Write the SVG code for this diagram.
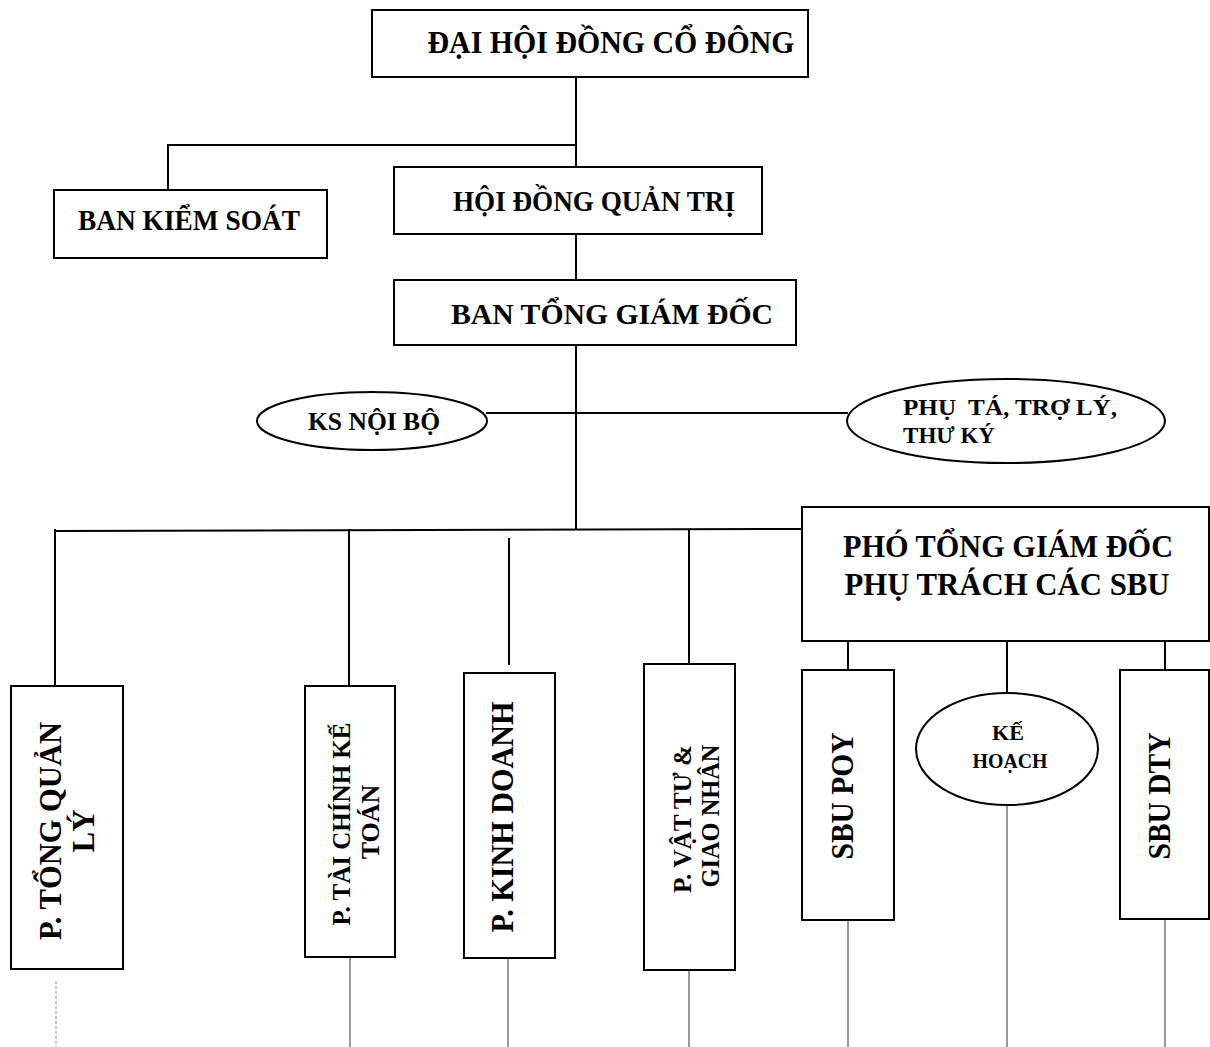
<svg xmlns="http://www.w3.org/2000/svg" width="1210" height="1047" viewBox="0 0 1210 1047">
<style>
.box{fill:#fff;stroke:#000;stroke-width:2}
.conn{fill:none;stroke:#000;stroke-width:2}
.thin{fill:none;stroke:#333;stroke-width:1}
.faint{fill:none;stroke:#888;stroke-width:1;stroke-dasharray:3 2}
text{font-family:"Liberation Serif","Times New Roman",serif;font-weight:bold;fill:#000}
.c{text-anchor:middle}
.pre{white-space:pre}
</style>
<rect width="1210" height="1047" fill="#fff"/>
<g id="connectors">
<line class="conn" x1="576" y1="77" x2="576" y2="167"/>
<polyline class="conn" points="576,145 168,145 168,190"/>
<line class="conn" x1="576" y1="234" x2="576" y2="280"/>
<line class="conn" x1="576" y1="345" x2="576" y2="530"/>
<line class="conn" x1="486" y1="413" x2="848" y2="413"/>
<line class="conn" x1="55" y1="531" x2="802" y2="529"/>
<line class="conn" x1="55" y1="529" x2="55" y2="686"/>
<line class="conn" x1="349" y1="529" x2="349" y2="686"/>
<line class="conn" x1="509" y1="538" x2="509" y2="665"/>
<line class="conn" x1="689" y1="529" x2="689" y2="664"/>
<line class="conn" x1="848" y1="641" x2="848" y2="673"/>
<line class="conn" x1="1007" y1="641" x2="1007" y2="693"/>
<line class="conn" x1="1165" y1="641" x2="1165" y2="670"/>
<line class="faint" x1="56" y1="981" x2="56" y2="1047"/>
<line class="thin" x1="350" y1="957" x2="350" y2="1047"/>
<line class="thin" x1="508" y1="958" x2="508" y2="1047"/>
<line class="thin" x1="689" y1="959" x2="689" y2="1047"/>
<line class="thin" x1="848" y1="912" x2="848" y2="1047"/>
<line class="thin" x1="1007" y1="800" x2="1007" y2="1047"/>
<line class="thin" x1="1165" y1="912" x2="1165" y2="1047"/>
</g>
<g id="dai-hoi">
<rect class="box" x="372" y="10" width="436" height="67"/>
<text class="c" x="611" y="53" font-size="31" textLength="367" lengthAdjust="spacingAndGlyphs">ĐẠI HỘI ĐỒNG CỔ ĐÔNG</text>
</g>
<g id="ban-kiem-soat">
<rect class="box" x="54" y="190" width="273" height="68"/>
<text class="c" x="189" y="230" font-size="29" textLength="222" lengthAdjust="spacingAndGlyphs">BAN KIỂM SOÁT</text>
</g>
<g id="hoi-dong-quan-tri">
<rect class="box" x="394" y="167" width="368" height="67"/>
<text class="c" x="594" y="211" font-size="30" textLength="282" lengthAdjust="spacingAndGlyphs">HỘI ĐỒNG QUẢN TRỊ</text>
</g>
<g id="ban-tong-giam-doc">
<rect class="box" x="394" y="280" width="402" height="65"/>
<text class="c" x="612" y="324" font-size="30" textLength="322" lengthAdjust="spacingAndGlyphs">BAN TỔNG GIÁM ĐỐC</text>
</g>
<g id="ks-noi-bo">
<ellipse class="box" cx="372" cy="421" rx="115" ry="29"/>
<text class="c" x="374" y="430" font-size="25" textLength="132" lengthAdjust="spacingAndGlyphs">KS NỘI BỘ</text>
</g>
<g id="phu-ta">
<ellipse class="box" cx="1006" cy="421" rx="159" ry="42"/>
<text class="pre" x="903" y="415" font-size="24" textLength="214" lengthAdjust="spacingAndGlyphs" xml:space="preserve">PHỤ  TÁ, TRỢ LÝ,</text>
<text x="903" y="443" font-size="24" textLength="92" lengthAdjust="spacingAndGlyphs">THƯ KÝ</text>
</g>
<g id="pho-tong-giam-doc">
<rect class="box" x="802" y="507" width="407" height="134"/>
<text class="c" x="1008" y="557" font-size="32" textLength="330" lengthAdjust="spacingAndGlyphs">PHÓ TỔNG GIÁM ĐỐC</text>
<text class="c" x="1007" y="595" font-size="32" textLength="325" lengthAdjust="spacingAndGlyphs">PHỤ TRÁCH CÁC SBU</text>
</g>
<g id="p-tong-quan-ly">
<rect class="box" x="11" y="686" width="112" height="283"/>
<text class="c" transform="translate(61,831) rotate(-90)" font-size="31" textLength="218" lengthAdjust="spacingAndGlyphs">P. TỔNG QUẢN</text>
<text class="c" transform="translate(94,831) rotate(-90)" font-size="31">LÝ</text>
</g>
<g id="p-tai-chinh">
<rect class="box" x="305" y="686" width="90" height="271"/>
<text class="c" transform="translate(350,824) rotate(-90)" font-size="26" textLength="203" lengthAdjust="spacingAndGlyphs">P. TÀI CHÍNH KẾ</text>
<text class="c" transform="translate(379,822) rotate(-90)" font-size="26">TOÁN</text>
</g>
<g id="p-kinh-doanh">
<rect class="box" x="464" y="673" width="91" height="285"/>
<text class="c" transform="translate(513,817) rotate(-90)" font-size="31" textLength="231" lengthAdjust="spacingAndGlyphs">P. KINH DOANH</text>
</g>
<g id="p-vat-tu">
<rect class="box" x="644" y="664" width="91" height="306"/>
<text class="c" transform="translate(691,819) rotate(-90)" font-size="26" textLength="148" lengthAdjust="spacingAndGlyphs">P. VẬT TƯ &amp;</text>
<text class="c" transform="translate(719,816) rotate(-90)" font-size="26" textLength="143" lengthAdjust="spacingAndGlyphs">GIAO NHÂN</text>
</g>
<g id="sbu-poy">
<rect class="box" x="802" y="670" width="92" height="250"/>
<text class="c" transform="translate(853,796) rotate(-90)" font-size="31" textLength="127" lengthAdjust="spacingAndGlyphs">SBU POY</text>
</g>
<g id="ke-hoach">
<ellipse class="box" cx="1007" cy="749" rx="91" ry="56"/>
<text class="c" x="1008" y="740" font-size="22">KẾ</text>
<text class="c" x="1010" y="768" font-size="22" textLength="75" lengthAdjust="spacingAndGlyphs">HOẠCH</text>
</g>
<g id="sbu-dty">
<rect class="box" x="1120" y="670" width="89" height="249"/>
<text class="c" transform="translate(1170,796) rotate(-90)" font-size="31" textLength="127" lengthAdjust="spacingAndGlyphs">SBU DTY</text>
</g>
</svg>
